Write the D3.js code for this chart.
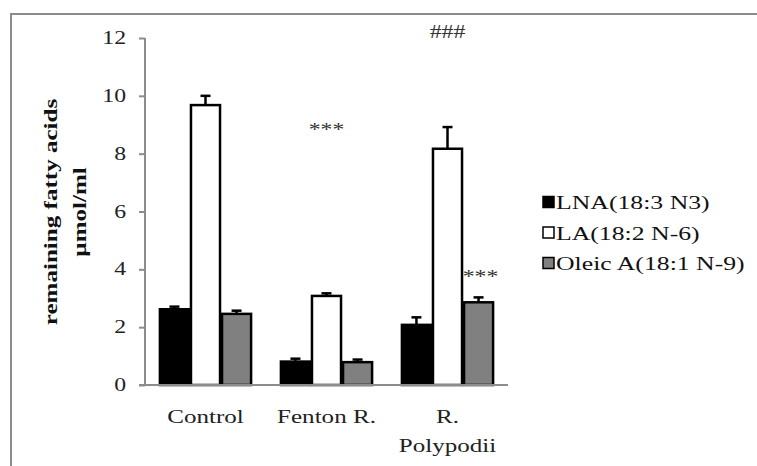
<!DOCTYPE html>
<html>
<head>
<meta charset="utf-8">
<script src="https://cdn.jsdelivr.net/npm/d3@7"></script>
<style>
body{margin:0;background:#fff}
text{font-family:"Liberation Serif","Times New Roman",serif}
</style>
</head>
<body>
<svg id="chart" width="757" height="466"></svg>
<script>
var groups = ['Control', 'Fenton R.', 'R. Polypodii'];
var seriesNames = ['LNA(18:3 N3)', 'LA(18:2 N-6)', 'Oleic A(18:1 N-9)'];
var seriesFill = ['#000000', '#ffffff', '#808080'];
var lnaValues = [2.62, 0.81, 2.08];
var lnaErrors = [0.09, 0.1, 0.26];
var laValues = [9.68, 3.08, 8.17];
var laErrors = [0.32, 0.09, 0.75];
var oleicValues = [2.46, 0.79, 2.86];
var oleicErrors = [0.11, 0.09, 0.17];
var yTicks = [0, 2, 4, 6, 8, 10, 12];

var svg = d3.select('#chart');
var stretch = 1.32; // the original text is drawn wide

// text helper, stretched sideways
var addText = function(parent, x, yy, str, size, anchor, color, bold){
  var t = parent.append('text')
    .attr('transform', 'translate(' + x + ',' + yy + ') scale(' + stretch + ',1)')
    .attr('text-anchor', anchor)
    .attr('font-size', size)
    .attr('fill', color)
    .text(str);
  if (bold) t.attr('font-weight', 'bold');
  return t;
};

// frame around the chart
svg.append('path')
  .attr('d', 'M11,466 V14 H757')
  .attr('fill', 'none')
  .attr('stroke', '#8c8c8c')
  .attr('stroke-width', 2);

var mLeft = 145, mRight = 508, mTop = 38, mBottom = 385;

var x0 = d3.scaleBand().domain(groups).range([mLeft, mRight]).paddingInner(0.23).paddingOuter(0.115);
var x1 = d3.scaleBand().domain(seriesNames).range([0, x0.bandwidth()]);
var y = d3.scaleLinear().domain([0, 12]).range([mBottom, mTop]);

var series = [
  {name: seriesNames[0], fill: seriesFill[0], values: lnaValues, errors: lnaErrors},
  {name: seriesNames[1], fill: seriesFill[1], values: laValues, errors: laErrors},
  {name: seriesNames[2], fill: seriesFill[2], values: oleicValues, errors: oleicErrors}
];

var flat = [];
series.forEach(function(s){
  groups.forEach(function(g, i){
    flat.push({group: g, name: s.name, fill: s.fill, value: s.values[i], err: s.errors[i]});
  });
});

// y axis
var yAxis = svg.append('g')
  .attr('transform', 'translate(' + mLeft + ',0)')
  .call(d3.axisLeft(y).tickValues(yTicks).tickSize(6).tickFormat(''));
yAxis.select('.domain').attr('stroke', '#8c8c8c').attr('stroke-width', 2).attr('d', 'M0,' + mTop + 'V' + mBottom);
yAxis.selectAll('.tick line').attr('stroke', '#8c8c8c').attr('stroke-width', 2);
yTicks.forEach(function(v){
  addText(svg, 126, y(v) + 6, v, 18, 'end', '#222');
});

// error bars (upper only)
var err = svg.append('g');
flat.forEach(function(d){
  var cx = x0(d.group) + x1(d.name) + x1.bandwidth() / 2;
  err.append('line')
    .attr('x1', cx).attr('x2', cx)
    .attr('y1', y(d.value)).attr('y2', y(d.value + d.err))
    .attr('stroke', '#000').attr('stroke-width', 2.5);
  err.append('line')
    .attr('x1', cx - 5).attr('x2', cx + 5)
    .attr('y1', y(d.value + d.err)).attr('y2', y(d.value + d.err))
    .attr('stroke', '#000').attr('stroke-width', 2.5);
});

// bars
svg.append('g').selectAll('rect')
  .data(flat)
  .enter().append('rect')
  .attr('x', function(d){ return x0(d.group) + x1(d.name) + 1; })
  .attr('y', function(d){ return y(d.value); })
  .attr('width', x1.bandwidth() - 2)
  .attr('height', function(d){ return mBottom - y(d.value); })
  .attr('fill', function(d){ return d.fill; })
  .attr('stroke', '#000')
  .attr('stroke-width', 2.5);

// x axis line
svg.append('line')
  .attr('x1', mLeft - 6).attr('x2', mRight)
  .attr('y1', mBottom).attr('y2', mBottom)
  .attr('stroke', '#8c8c8c').attr('stroke-width', 2);

// category labels
var catLines = {'Control': ['Control'], 'Fenton R.': ['Fenton R.'], 'R. Polypodii': ['R.', 'Polypodii']};
groups.forEach(function(g){
  catLines[g].forEach(function(line, i){
    addText(svg, x0(g) + x0.bandwidth() / 2, 423 + i * 29, line, 19, 'middle', '#222');
  });
});

// y axis title
var yt = svg.append('text')
  .attr('transform', 'translate(57,212) rotate(-90) scale(' + stretch + ',1)')
  .attr('text-anchor', 'middle')
  .attr('font-size', 19)
  .attr('font-weight', 'bold')
  .attr('fill', '#111');
yt.append('tspan').attr('x', 0).attr('dy', 0).text('remaining fatty acids');
yt.append('tspan').attr('x', 0).attr('dy', 29).text('µmol/ml');

// significance marks
var marks = [
  {text: '###', group: 'R. Polypodii', series: null, value: 12.0},
  {text: '***', group: 'Fenton R.', series: null, value: 8.6},
  {text: '***', group: 'R. Polypodii', series: seriesNames[2], value: 3.52}
];
marks.forEach(function(m){
  var cx = m.series ? x0(m.group) + x1(m.series) + x1.bandwidth() / 2 + 2 : x0(m.group) + x0.bandwidth() / 2;
  addText(svg, cx, y(m.value), m.text, 18, 'middle', '#333');
});

// legend
var legend = svg.append('g');
seriesNames.forEach(function(name, i){
  var ly = 202 + i * 30.5;
  legend.append('rect')
    .attr('x', 543).attr('y', ly - 5.5)
    .attr('width', 11).attr('height', 11)
    .attr('fill', seriesFill[i])
    .attr('stroke', '#000').attr('stroke-width', 1.5);
  addText(legend, 556, ly + 7, name, 19.5, 'start', '#111');
});
</script>
</body>
</html>
